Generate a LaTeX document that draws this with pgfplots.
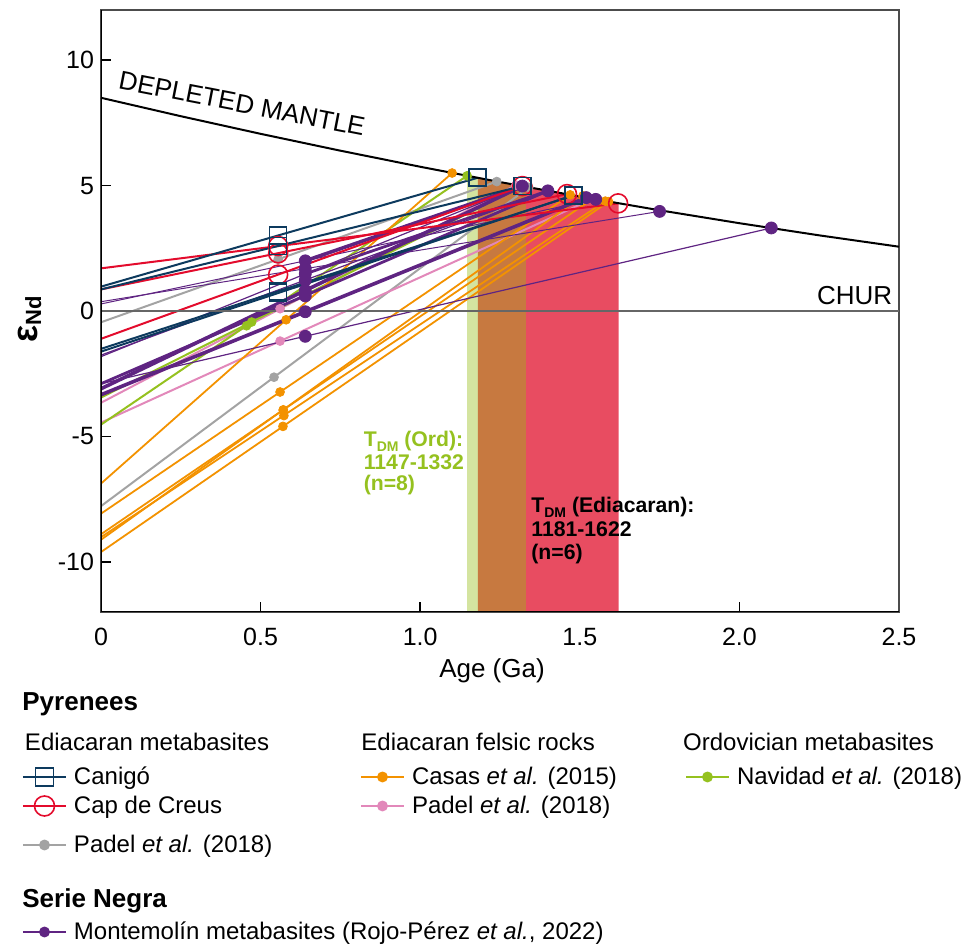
\documentclass[border=0pt]{standalone}
\usepackage{fontspec}
\setmainfont{Liberation Sans}
\usepackage{pgfplots}
\pgfplotsset{compat=1.18}
\definecolor{cnavy}{HTML}{0D3A5E}
\definecolor{cred}{HTML}{E30B2C}
\definecolor{cgray}{HTML}{A3A3A3}
\definecolor{corange}{HTML}{F39200}
\definecolor{cpink}{HTML}{E288BA}
\definecolor{cgreen}{HTML}{95C11F}
\definecolor{cpurple}{HTML}{5F2482}
\definecolor{bgreen}{HTML}{D4E4A0}
\definecolor{bbrown}{HTML}{C77940}
\definecolor{bred}{HTML}{E84C61}
\definecolor{chur}{HTML}{666666}
\newcommand{\cA}[1]{\makebox[146.5pt][l]{\hspace{3.5pt}#1}}
\newcommand{\cB}[1]{\makebox[140pt][l]{\hspace{3.5pt}#1}}
\pgfplotsset{
  legaxis/.style={hide axis, scale only axis, width=481.5pt, height=473pt,
    at={(0pt,0pt)}, anchor=south west, xmin=0, xmax=1, ymin=0, ymax=1,
    legend columns=3, legend cell align=left,
    legend style={at={(#1)}, anchor=west, draw=none, fill=none,
      inner sep=0pt, outer sep=0pt, font=\fontsize{12}{14}\selectfont,
      row sep=0pt, column sep=0pt, nodes={inner sep=0pt}},
    legend image code/.code={\draw[mark repeat=2,mark phase=2,##1] plot coordinates {(0pt,0pt) (10.75pt,0pt) (21.5pt,0pt)};}},
}
\begin{document}
\begin{tikzpicture}
\path[use as bounding box] (0,0) rectangle (481.5pt,473pt);
\begin{axis}[
  at={(50.5pt,167pt)}, anchor=south west,
  scale only axis, width=399pt, height=301pt,
  xmin=0, xmax=2.5, ymin=-12, ymax=12,
  xtick={0,0.5,1,1.5,2,2.5}, xticklabels={0,0.5,1.0,1.5,2.0,2.5},
  ytick={-10,-5,0,5,10}, yticklabels={-10,-5,0,5,10},
  tick align=inside, tick pos=left,
  major tick length=5pt, tick style={black, line width=0.8pt},
  axis line style={black!70, line width=0.6pt},
  ticklabel style={font=\fontsize{12.5}{14}\selectfont},
  xticklabel style={yshift=-4.5pt},
  /pgf/number format/assume math mode=true,
  navy/.style={cnavy, line width=1pt, forget plot},
  redl/.style={cred, line width=1pt, forget plot},
  grayl/.style={cgray, line width=1pt, forget plot},
  orl/.style={corange, line width=0.9pt, forget plot},
  pinkl/.style={cpink, line width=1pt, forget plot},
  grl/.style={cgreen, line width=1pt, forget plot},
  pur/.style={cpurple, forget plot},
]
% T_DM bands (up to the depleted mantle curve)
\addplot[fill=bgreen, draw=none, forget plot] coordinates {(1.147,-12) (1.147,5.388) (1.181,5.306) (1.181,-12)};
\addplot[fill=bbrown, draw=none, forget plot] coordinates {(1.181,-12) (1.181,5.306) (1.25,5.141) (1.332,4.948) (1.332,-12)};
\addplot[fill=bred, draw=none, forget plot] coordinates {(1.332,-12) (1.332,4.948) (1.45,4.676) (1.55,4.451) (1.622,4.292) (1.622,-12)};
% Padel et al. 2018 metabasites (gray)
\addplot[grayl] coordinates {(0,-0.45) (1.24,5.16)};
\addplot[grayl] coordinates {(0,-7.78) (1.34,4.93)};
% Padel et al. 2018 felsic (pink)
\addplot[pinkl] coordinates {(0,-3.66) (1.30,5.02)};
\addplot[pinkl] coordinates {(0,-4.45) (1.54,4.47)};
% Navidad et al. 2018 (green)
\addplot[grl] coordinates {(0,-3.45) (1.32,4.98)};
\addplot[grl] coordinates {(0,-4.53) (1.147,5.39)};
% Casas et al. 2015 (orange)
\addplot[orl] coordinates {(0,-6.88) (1.10,5.50)};
\addplot[orl] coordinates {(0,-8.08) (1.47,4.63)};
\addplot[orl] coordinates {(0,-8.90) (1.54,4.47)};
\addplot[orl] coordinates {(0,-9.02) (1.58,4.38)};
\addplot[orl] coordinates {(0,-9.12) (1.51,4.59)};
\addplot[orl] coordinates {(0,-9.61) (1.59,4.36)};
% Montemolin (purple)
\addplot[pur, line width=0.5pt] coordinates {(0,0.37) (1.75,3.97)};
\addplot[pur, line width=0.5pt] coordinates {(0,0.28) (1.55,4.45)};
\addplot[pur, line width=0.6pt] coordinates {(0,-1.76) (1.40,4.79)};
\addplot[pur, line width=0.6pt] coordinates {(0,-1.82) (1.32,4.98)};
\addplot[pur, line width=0.6pt] coordinates {(0,-2.90) (2.10,3.31)};
\addplot[pur, line width=1.8pt] coordinates {(0,-3.34) (1.52,4.52)};
\addplot[pur, line width=1.8pt] coordinates {(0,-3.10) (1.32,4.98)};
\addplot[pur, line width=1.4pt] coordinates {(0,-2.90) (1.40,4.79)};
\addplot[pur, line width=1.8pt] coordinates {(0.64,2.00) (1.32,4.98)};
\addplot[pur, line width=1.4pt] coordinates {(0.64,1.48) (1.40,4.79)};
% Cap de Creus (red)
\addplot[redl] coordinates {(0,1.70) (1.62,4.29)};
\addplot[redl] coordinates {(0,0.86) (1.46,4.66)};
\addplot[redl] coordinates {(0,-1.11) (1.32,4.98)};
% Canigo (navy)
\addplot[navy] coordinates {(0,0.97) (1.18,5.31)};
\addplot[navy] coordinates {(0,0.86) (1.32,4.98)};
\addplot[navy] coordinates {(0,-1.51) (1.48,4.61)};
\addplot[navy] coordinates {(0,-1.62) (1.48,4.61)};
% CHUR and depleted mantle
\addplot[chur, line width=1.3pt, forget plot] coordinates {(0,0) (2.5,0)};
\addplot[black, line width=1pt, forget plot] coordinates {(0,8.5) (0.25,7.7656) (0.5,7.0625) (0.75,6.3906) (1.0,5.75) (1.25,5.1406) (1.5,4.5625) (1.75,4.0156) (2.0,3.5) (2.25,3.0156) (2.5,2.5625)};
% markers
\addplot[only marks, mark=*, mark size=2.2pt, mark options={draw=corange, fill=corange}, forget plot] coordinates {(0.58,-0.35) (0.561,-3.23) (0.571,-3.96) (0.573,-4.17) (0.571,-3.94) (0.57,-4.60) (1.10,5.50) (1.47,4.63) (1.54,4.47) (1.58,4.38) (1.51,4.59) (1.59,4.36)};
\addplot[only marks, mark=*, mark size=2.2pt, mark options={draw=cgray, fill=cgray}, forget plot] coordinates {(0.555,2.06) (0.542,-2.64) (1.24,5.16) (1.34,4.93)};
\addplot[only marks, mark=*, mark size=2.2pt, mark options={draw=cpink, fill=cpink}, forget plot] coordinates {(0.561,0.09) (0.561,-1.20) (1.30,5.02) (1.54,4.47)};
\addplot[only marks, mark=*, mark size=2.2pt, mark options={draw=cgreen, fill=cgreen}, forget plot] coordinates {(0.472,-0.44) (0.456,-0.59) (1.32,4.98) (1.147,5.39)};
\addplot[only marks, mark=*, mark size=3pt, mark options={draw=cpurple, fill=cpurple}, forget plot] coordinates {(0.64,1.69) (0.64,2.00) (0.64,1.23) (0.64,1.48) (0.64,-1.01) (0.64,-0.03) (0.64,0.82) (0.64,0.60) (1.75,3.97) (2.10,3.31) (1.40,4.79) (1.32,4.98) (1.55,4.45) (1.52,4.52)};
\addplot[only marks, mark=o, mark size=4.75pt, mark options={draw=cred, line width=0.8pt}, forget plot] coordinates {(0.555,2.59) (0.555,2.30) (0.555,1.45) (1.32,4.98) (1.46,4.66) (1.62,4.29)};
\addplot[only marks, mark=square, mark size=4.25pt, mark options={draw=cnavy, line width=0.8pt}, forget plot] coordinates {(0.555,3.01) (0.555,2.59) (0.555,0.78) (0.555,0.72) (1.18,5.31) (1.32,4.98) (1.48,4.61)};
% axis frame left/bottom in black
\draw[black, line width=1pt] (rel axis cs:0,1) -- (rel axis cs:0,0) -- (rel axis cs:1,0);
% texts in the plot
\node[rotate=-11, font=\fontsize{13}{15}\selectfont] at (axis cs:0.442,8.27) {DEPLETED MANTLE};
\node[anchor=base east, inner sep=0pt, font=\fontsize{13}{15}\selectfont] at (axis cs:2.48,0.24) {CHUR};
\end{axis}
% legend rows (one hidden axis per row)
\begin{axis}[legaxis={0.02285,0.17865}]
\addlegendimage{cnavy, line width=1pt, mark=square, mark size=4.5pt, mark options={solid, line width=0.8pt}}
\addlegendentry{\cA{Canigó}}
\addlegendimage{corange, line width=1pt, mark=*, mark size=2.2pt, mark options={fill=corange}}
\addlegendentry{\cB{Casas \textit{et al.} (2015)}}
\addlegendimage{cgreen, line width=1pt, mark=*, mark size=2.2pt, mark options={fill=cgreen}}
\addlegendentry{\hspace{3.5pt}Navidad \textit{et al.} (2018)}
\end{axis}
\begin{axis}[legaxis={0.02285,0.14799}]
\addlegendimage{cred, line width=1pt, mark=o, mark size=5pt, mark options={solid, line width=0.8pt}}
\addlegendentry{\cA{Cap de Creus}}
\addlegendimage{cpink, line width=1pt, mark=*, mark size=2.2pt, mark options={fill=cpink}}
\addlegendentry{\cB{Padel \textit{et al.} (2018)}}
\end{axis}
\begin{axis}[legaxis={0.02285,0.10677}]
\addlegendimage{cgray, line width=1pt, mark=*, mark size=2.2pt, mark options={fill=cgray}}
\addlegendentry{\hspace{3.5pt}Padel \textit{et al.} (2018)}
\end{axis}
\begin{axis}[legaxis={0.02285,0.0148}]
\addlegendimage{cpurple, line width=1pt, mark=*, mark size=2.2pt, mark options={fill=cpurple}}
\addlegendentry{\hspace{3.5pt}Montemolín metabasites (Rojo-Pérez \textit{et al.}, 2022)}
\end{axis}
% axis labels
\node[anchor=base, inner sep=0pt, font=\fontsize{13}{15}\selectfont] at (246pt,134pt) {Age (Ga)};
\node[anchor=base, rotate=90, inner sep=0pt, font=\bfseries] at (18.5pt,313.5pt) {{\fontsize{18}{20}\selectfont ε}{\fontsize{11}{13}\selectfont\raisebox{-0.35ex}{Nd}}};
% T_DM annotations
\begin{scope}[every node/.style={anchor=base west, inner sep=0pt, font=\fontsize{10.6}{12}\selectfont\bfseries}]
\node[text=cgreen] at (181.7pt,249.7pt) {T\raisebox{-0.4ex}{\fontsize{7}{8}\selectfont DM} (Ord):};
\node[text=cgreen] at (181.7pt,238pt) {1147-1332};
\node[text=cgreen] at (181.7pt,227.7pt) {(n=8)};
\node at (265.5pt,216.5pt) {T\raisebox{-0.4ex}{\fontsize{7}{8}\selectfont DM} (Ediacaran):};
\node at (265.5pt,204.7pt) {1181-1622};
\node at (265.5pt,193pt) {(n=6)};
\end{scope}
% legend headings
\begin{scope}[every node/.style={anchor=base west, inner sep=0pt, font=\fontsize{12}{14}\selectfont}]
\node[font=\fontsize{13}{15}\selectfont\bfseries] at (11pt,117.5pt) {Pyrenees};
\node at (12.3pt,97.6pt) {Ediacaran metabasites};
\node at (180.5pt,97.6pt) {Ediacaran felsic rocks};
\node at (341.4pt,97.6pt) {Ordovician metabasites};
\node[font=\fontsize{13}{15}\selectfont\bfseries] at (11pt,19.2pt) {Serie Negra};
\end{scope}
\end{tikzpicture}
\end{document}
